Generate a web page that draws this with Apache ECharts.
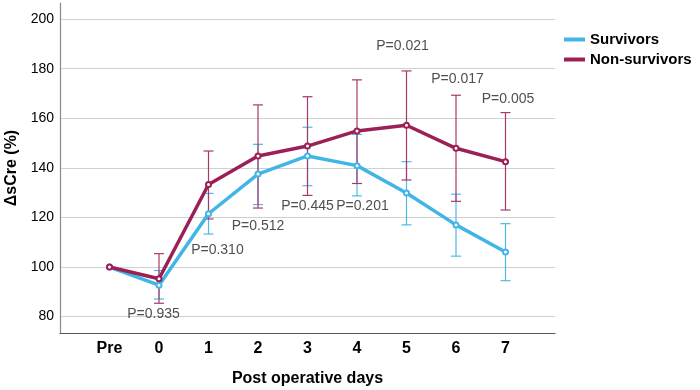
<!DOCTYPE html>
<html>
<head>
<meta charset="utf-8">
<script src="https://cdn.jsdelivr.net/npm/echarts@6/dist/echarts.min.js"></script>
<style>
 html, body { margin: 0; padding: 0; background: #fff; }
 #main { width: 700px; height: 390px; }
</style>
</head>
<body>
<div id="main"></div>
<script>
 // 横轴: -1 = Pre, 0..7 = 术后天数
 var days = [-1, 0, 1, 2, 3, 4, 5, 6, 7];
 var dayNames = ['Pre', '0', '1', '2', '3', '4', '5', '6', '7'];
 // 存活组
 var survMean = [100, 92.7, 121.5, 137.5, 144.8, 140.9, 129.9, 117.0, 106.1];
 var survLow  = [null, 87.1, 113.3, 125.2, 132.8, 128.7, 117.0, 104.4, 94.5];
 var survHigh = [null, 98.6, 129.7, 149.5, 156.4, 153.5, 142.5, 129.4, 117.5];
 // 死亡组
 var nonMean = [100, 95.3, 133.3, 144.8, 148.8, 154.9, 157.2, 147.9, 142.5];
 var nonLow  = [null, 85.4, 119.4, 123.8, 128.9, 133.7, 135.1, 126.5, 123.0];
 var nonHigh = [null, 105.4, 146.8, 165.4, 168.7, 175.5, 179.1, 169.3, 162.3];
 // P值标注
 var pText = ['P=0.935', 'P=0.310', 'P=0.512', 'P=0.445', 'P=0.201', 'P=0.021', 'P=0.017', 'P=0.005'];
 var pX = [-0.11, 1.18, 2.0, 3.0, 4.11, 4.92, 6.03, 7.05];
 var pY = [81.1, 107.0, 116.7, 124.5, 124.5, 188.9, 175.9, 167.7];

 var blue = '#41b6e6';
 var maroon = '#9c1f55';

 function pairs(xs, ys) {
	var out = [];
	for (var i = 0; i < xs.length; i++) out.push([xs[i], ys[i]]);
	return out;
 }
 function errData(low, high) {
	var out = [];
	for (var i = 0; i < days.length; i++) {
		if (low[i] != null) out.push([days[i], low[i], high[i]]);
	}
	return out;
 }
 function errRender(color) {
	return function (params, api) {
		var lo = api.coord([api.value(0), api.value(1)]);
		var hi = api.coord([api.value(0), api.value(2)]);
		var w = 5;
		var st = { stroke: color, lineWidth: 1.2 };
		return {
			type: 'group',
			children: [
				{ type: 'line', shape: { x1: lo[0], y1: lo[1], x2: hi[0], y2: hi[1] }, style: st },
				{ type: 'line', shape: { x1: lo[0] - w, y1: lo[1], x2: lo[0] + w, y2: lo[1] }, style: st },
				{ type: 'line', shape: { x1: hi[0] - w, y1: hi[1], x2: hi[0] + w, y2: hi[1] }, style: st }
			]
		};
	};
 }

 var myChart = echarts.init(document.getElementById('main'));
 var option = {
	animation: false,
	textStyle: { fontFamily: 'Liberation Sans, Arial, sans-serif' },
	grid: { left: 60, right: 145, top: 3, bottom: 57, containLabel: false, outerBoundsMode: 'none' },
	legend: {
		orient: 'vertical',
		left: 559,
		top: 27,
		icon: 'rect',
		itemWidth: 21,
		itemHeight: 4,
		itemGap: 5,
		textStyle: { fontSize: 15, fontWeight: 'bold', color: '#000' },
		data: ['Survivors', 'Non-survivors']
	},
	xAxis: {
		type: 'value',
		min: -2,
		max: 8,
		interval: 1,
		name: 'Post operative days',
		nameLocation: 'middle',
		nameGap: 38,
		nameTextStyle: { fontSize: 16, fontWeight: 'bold', color: '#000' },
		axisLine: { onZero: false, lineStyle: { color: '#555', width: 1.2 } },
		axisTick: { show: false },
		splitLine: { show: false },
		axisLabel: {
			margin: 8,
			fontSize: 16,
			fontWeight: 'bold',
			color: '#000',
			formatter: function (v) {
				var i = days.indexOf(v);
				return i >= 0 ? dayNames[i] : '';
			}
		}
	},
	yAxis: {
		type: 'value',
		min: 73.4,
		max: 206.5,
		minInterval: 20,
		maxInterval: 20,
		name: 'ΔsCre (%)',
		nameLocation: 'middle',
		nameGap: 40,
		nameTextStyle: { fontSize: 16, fontWeight: 'bold', color: '#000' },
		axisLine: { show: true, onZero: false, lineStyle: { color: '#888', width: 1.2 } },
		axisTick: { show: false },
		axisLabel: {
			margin: 6,
			fontSize: 14,
			color: '#000',
			showMinLabel: false,
			showMaxLabel: false
		},
		splitLine: {
			show: true,
			showMinLine: false,
			showMaxLine: false,
			lineStyle: { color: '#d0d0d0', width: 1.2 }
		}
	},
	series: [
		{
			name: 'Survivors',
			type: 'line',
			data: pairs(days, survMean),
			symbol: 'emptyCircle',
			symbolSize: 5,
			color: blue,
			lineStyle: { width: 3.5, color: blue },
			z: 3
		},
		{
			name: 'Non-survivors',
			type: 'line',
			data: pairs(days, nonMean),
			symbol: 'emptyCircle',
			symbolSize: 5,
			color: maroon,
			lineStyle: { width: 3.5, color: maroon },
			z: 4
		},
		{
			type: 'custom',
			renderItem: errRender('#4fb9e6'),
			data: errData(survLow, survHigh),
			z: 2
		},
		{
			type: 'custom',
			renderItem: errRender('#a73a6c'),
			data: errData(nonLow, nonHigh),
			z: 2
		},
		{
			type: 'scatter',
			symbolSize: 0,
			data: pairs(pX, pY),
			label: {
				show: true,
				position: 'inside',
				fontSize: 14,
				color: '#222',
				formatter: function (p) { return pText[p.dataIndex]; }
			},
			silent: true,
			z: 5
		}
	]
 };
 myChart.setOption(option, true);
</script>
</body>
</html>
